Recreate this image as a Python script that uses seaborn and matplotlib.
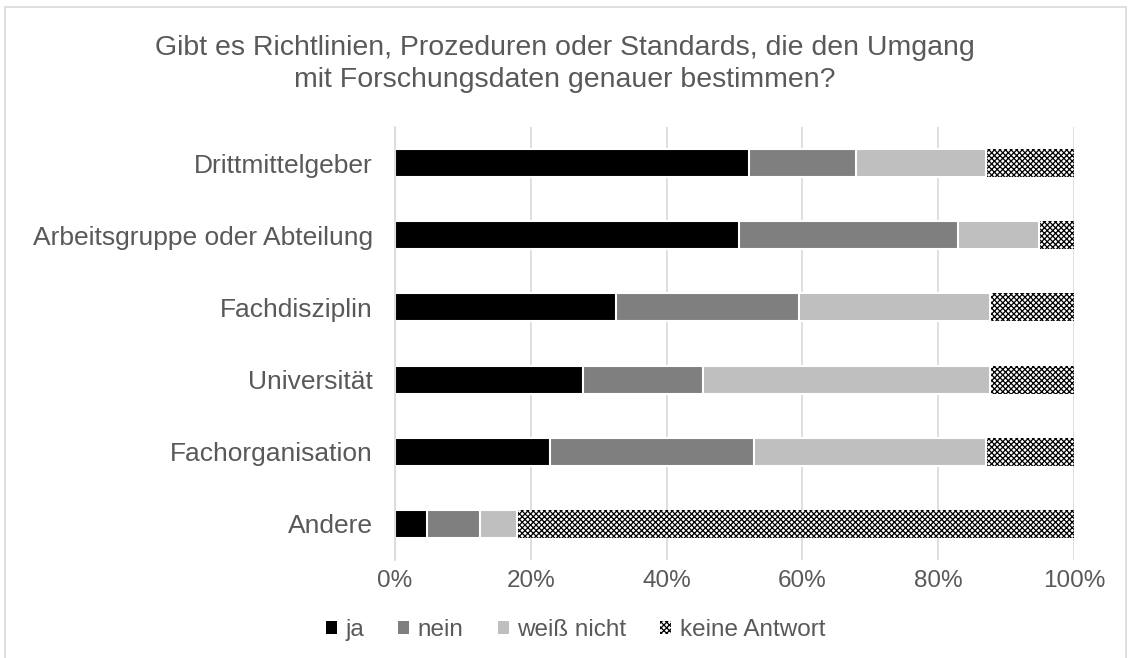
import pandas as pd
import numpy as np
import matplotlib.pyplot as plt
import seaborn as sns
from matplotlib.patches import Patch, Rectangle
from matplotlib.ticker import PercentFormatter

categories = ["Drittmittelgeber", "Arbeitsgruppe oder Abteilung", "Fachdisziplin",
              "Universität", "Fachorganisation", "Andere"]
ja = [52.1, 50.6, 32.6, 27.7, 22.8, 4.7]
nein = [15.8, 32.3, 26.9, 17.6, 30.0, 7.8]
weiss_nicht = [19.1, 12.0, 28.2, 42.4, 34.2, 5.4]
keine_antwort = [13.0, 5.1, 12.3, 12.3, 13.0, 82.1]
answers = ["ja", "nein", "weiß nicht", "keine Antwort"]
colors = ["#000000", "#7f7f7f", "#bfbfbf", "#ffffff"]

df = pd.DataFrame({"Kategorie": categories, "ja": ja, "nein": nein,
                   "weiß nicht": weiss_nicht, "keine Antwort": keine_antwort})
cum = df[answers].cumsum(axis=1)
cum["Kategorie"] = df["Kategorie"]

sns.set_style("white")
plt.rcParams["font.family"] = ["Liberation Sans", "DejaVu Sans"]
plt.rcParams["hatch.linewidth"] = 0.9
plt.rcParams["hatch.color"] = "black"

fig = plt.figure(figsize=(11.29, 6.58), dpi=100)
ax = fig.add_axes([395 / 1129, 1 - 560 / 658, (1074 - 395) / 1129, (560 - 127) / 658])

# stacked bars: draw cumulative totals from the back to the front
for i in range(len(answers) - 1, -1, -1):
    col = answers[i]
    if col == "keine Antwort":
        sns.barplot(data=cum, x=col, y="Kategorie", orient="h", color="white",
                    edgecolor="black", linewidth=0, hatch="xxxxxx", width=0.39, ax=ax)
    else:
        sns.barplot(data=cum, x=col, y="Kategorie", orient="h", color=colors[i],
                    saturation=1, edgecolor="white", linewidth=1.5, width=0.39, ax=ax)

ax.set_xlim(0, 100)
ax.set_xticks(np.arange(0, 101, 20))
ax.xaxis.set_major_formatter(PercentFormatter(decimals=0))
ax.grid(axis="x", color="#d9d9d9", linewidth=1.2)
ax.set_axisbelow(True)
for s in ["top", "right", "bottom"]:
    ax.spines[s].set_visible(False)
ax.spines["left"].set_color("#d9d9d9")
ax.spines["left"].set_linewidth(1.2)
ax.set_xlabel("")
ax.set_ylabel("")
ax.tick_params(axis="x", labelsize=17.5, colors="#595959", length=0, pad=7)
ax.tick_params(axis="y", labelsize=19, colors="#595959", length=0, pad=16)

fig.text(0.5, 0.902, "Gibt es Richtlinien, Prozeduren oder Standards, die den Umgang\nmit Forschungsdaten genauer bestimmen?",
         ha="center", va="center", fontsize=20.5, color="#595959", linespacing=1.3)

handles = [Patch(facecolor=colors[0], edgecolor="none"),
           Patch(facecolor=colors[1], edgecolor="none"),
           Patch(facecolor=colors[2], edgecolor="none"),
           Patch(facecolor="white", edgecolor="black", linewidth=0, hatch="xxxxxx")]
fig.legend(handles, answers, loc="center", bbox_to_anchor=(0.51, 0.043), ncol=4,
           frameon=False, fontsize=17.5, labelcolor="#595959", handlelength=0.45,
           handleheight=0.45, handletextpad=0.35, columnspacing=1.4)

fig.patches.append(Rectangle((0.004, -0.01), 0.993, 0.999, transform=fig.transFigure,
                             fill=False, edgecolor="#d9d9d9", linewidth=1.2))

fig.savefig("out.png", dpi=100)
